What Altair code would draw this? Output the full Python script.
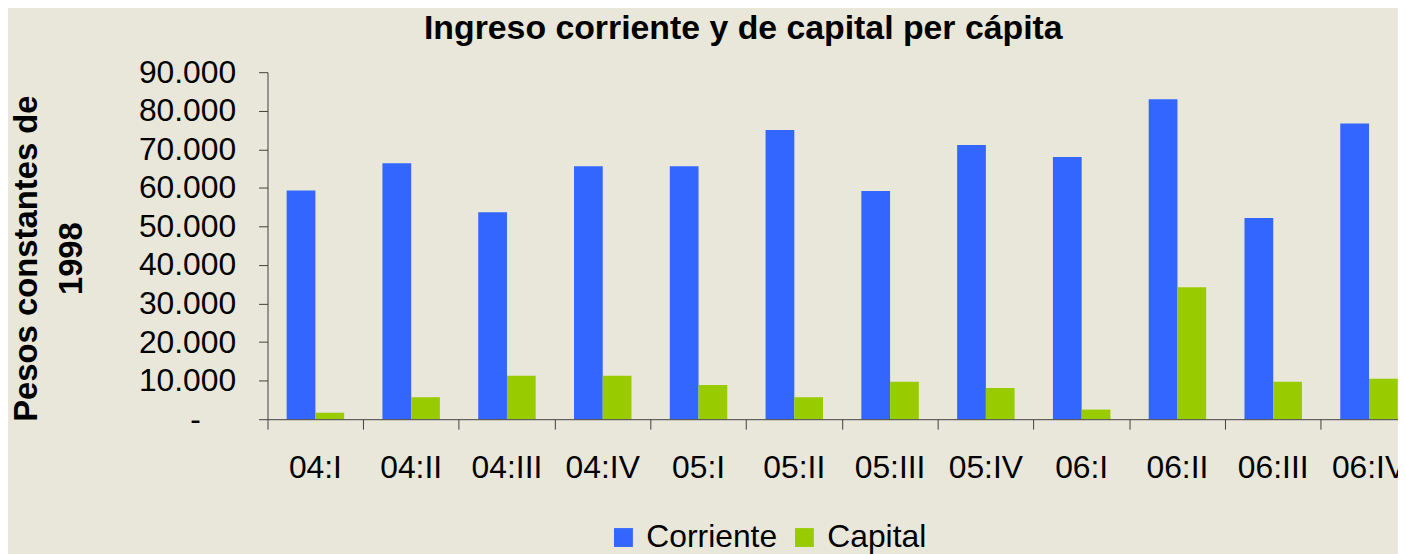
import altair as alt
import pandas as pd

periodos = ["04:I", "04:II", "04:III", "04:IV", "05:I", "05:II", "05:III", "05:IV",
            "06:I", "06:II", "06:III", "06:IV"]
corriente = [59300, 66400, 53700, 65600, 65600, 75000, 59200, 71100, 68000, 83000, 52200, 76700]
capital = [1700, 5700, 11300, 11300, 8900, 5700, 9700, 8100, 2500, 34200, 9700, 10500]
series = ["Corriente", "Capital"]
colores = ["#3366FF", "#99CC00"]
y_ticks = [0, 10000, 20000, 30000, 40000, 50000, 60000, 70000, 80000, 90000]

rows = []
for p, c, k in zip(periodos, corriente, capital):
    rows.append({"periodo": p, "serie": "Corriente", "valor": c})
    rows.append({"periodo": p, "serie": "Capital", "valor": k})
df = pd.DataFrame(rows)

FONT = "Liberation Sans, Arial, Helvetica, sans-serif"
NB = "\u00a0"
ZW = "\u200b"

chart = alt.Chart(df).mark_bar().encode(
    x=alt.X(
        "periodo:N", sort=periodos,
        scale=alt.Scale(paddingInner=0.4, paddingOuter=0.2, range=[0, 1156]),
        axis=alt.Axis(
            title=None, labelAngle=0, bandPosition=-0.3333,
            labelFont=FONT, labelFontSize=32, labelColor="#000000",
            labelPadding=24, tickSize=10, tickColor="#404040",
            domain=True, domainWidth=1, domainColor="#404040",
            labelBaseline="top", zindex=1,
        ),
    ),
    xOffset=alt.XOffset("serie:N", sort=series,
                        scale=alt.Scale(paddingInner=0, paddingOuter=0)),
    y=alt.Y(
        "valor:Q",
        scale=alt.Scale(domain=[0, 90000], nice=False),
        axis=alt.Axis(
            values=y_ticks,
            labelExpr="datum.value == 0 ? '-" + NB * 4 + ZW + "' : replace(format(datum.value, ','), ',', '.')",
            labelFont=FONT, labelFontSize=32, labelColor="#000000",
            labelPadding=23, tickSize=9, tickColor="#404040",
            domain=True, domainWidth=1, domainColor="#404040",
            domainOpacity=1, grid=False, zindex=1,
            title=["Pesos constantes de", "1998"],
            titleFont=FONT, titleFontSize=33, titleFontWeight="bold",
            titleColor="#000000", titleAngle=-90, titleAlign="center",
            titleBaseline="top", titleLineHeight=45,
            titleX=-258, titleY=187,
        ),
    ),
    color=alt.Color(
        "serie:N", sort=series,
        scale=alt.Scale(domain=series, range=colores),
        legend=alt.Legend(
            title=None, orient="none", legendX=342, legendY=452,
            direction="horizontal", symbolType="square", symbolSize=361,
            symbolStrokeWidth=0, symbolOpacity=1,
            labelFont=FONT, labelFontSize=32, labelColor="#000000",
            labelOffset=7, columnPadding=11, labelLimit=400,
        ),
    ),
).properties(
    width=1137,
    height=349,
    autosize=alt.AutoSizeParams(type="none"),
    padding={"left": 261, "top": 63, "right": 0, "bottom": 134},
    background="#E9E7D9",
    title=alt.TitleParams(
        text="Ingreso corriente y de capital per cápita",
        font=FONT, fontSize=34, fontWeight="bold", color="#000000",
        anchor="middle", frame="group", dx=-90, offset=10,
    ),
).configure_view(stroke=None)

chart.save("out.html", embed_options={"renderer": "svg", "actions": False})
